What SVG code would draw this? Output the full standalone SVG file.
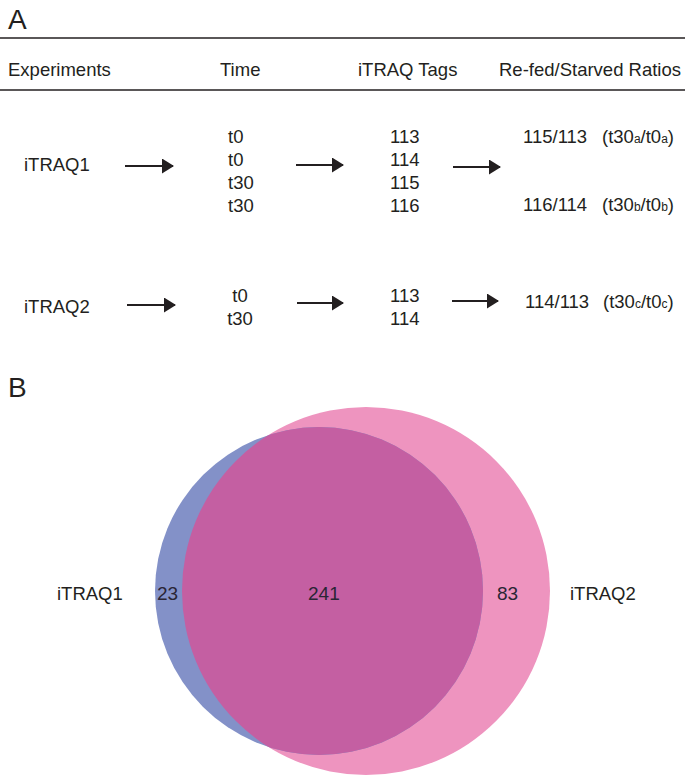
<svg xmlns="http://www.w3.org/2000/svg" width="685" height="778" viewBox="0 0 685 778">
<style>
text{font-family:"Liberation Sans",Arial,sans-serif;fill:#231f20;font-size:18.5px}
.big{font-size:28px}
.sub{font-size:12px}
.rule{stroke:#231f20;stroke-width:1.5}
.arr{stroke:#231f20;stroke-width:2;fill:none}
.vn{fill:#2a2535;font-size:19px}
</style>
<defs>
<marker id="ah" markerUnits="userSpaceOnUse" markerWidth="12" markerHeight="15" refX="11" refY="7.5" orient="auto">
<path d="M0,0 L12,7.5 L0,15 z" fill="#231f20"/>
</marker>
<clipPath id="pinkclip"><circle cx="366" cy="591" r="184"/></clipPath>
</defs>

<g id="panelA">
<text class="big" x="8" y="29">A</text>
<line class="rule" x1="0" y1="38" x2="685" y2="38"/>
<line class="rule" x1="0" y1="90" x2="685" y2="90"/>
<g id="header">
<text x="8" y="76">Experiments</text>
<text x="220" y="76">Time</text>
<text x="358" y="76">iTRAQ Tags</text>
<text x="499" y="76">Re-fed/Starved Ratios</text>
</g>
<g id="iTRAQ1-exp"><text x="24" y="171">iTRAQ1</text></g>
<g id="iTRAQ1-time">
<text x="228" y="143">t0</text>
<text x="228" y="166">t0</text>
<text x="228" y="189">t30</text>
<text x="228" y="212">t30</text>
</g>
<g id="iTRAQ1-tags">
<text x="390" y="143">113</text>
<text x="390" y="166">114</text>
<text x="390" y="189">115</text>
<text x="390" y="212">116</text>
</g>
<g id="iTRAQ1-ratios">
<text x="523" y="143">115/113</text>
<text x="602" y="143">(t30<tspan class="sub">a</tspan>/t0<tspan class="sub">a</tspan>)</text>
<text x="523" y="211">116/114</text>
<text x="602" y="211">(t30<tspan class="sub">b</tspan>/t0<tspan class="sub">b</tspan>)</text>
</g>
<g id="iTRAQ2-exp"><text x="24" y="313">iTRAQ2</text></g>
<g id="iTRAQ2-time">
<text x="240" y="302" text-anchor="middle">t0</text>
<text x="240" y="325" text-anchor="middle">t30</text>
</g>
<g id="iTRAQ2-tags">
<text x="390" y="302">113</text>
<text x="390" y="325">114</text>
</g>
<g id="iTRAQ2-ratios">
<text x="525" y="308">114/113</text>
<text x="603" y="308">(t30<tspan class="sub">c</tspan>/t0<tspan class="sub">c</tspan>)</text>
</g>
<g id="connectors">
<line class="arr" x1="125" y1="166" x2="173" y2="166" marker-end="url(#ah)"/>
<line class="arr" x1="296" y1="165" x2="343" y2="165" marker-end="url(#ah)"/>
<line class="arr" x1="453" y1="167" x2="500" y2="167" marker-end="url(#ah)"/>
<line class="arr" x1="127" y1="305" x2="175" y2="305" marker-end="url(#ah)"/>
<line class="arr" x1="297" y1="303" x2="343" y2="303" marker-end="url(#ah)"/>
<line class="arr" x1="452" y1="301" x2="498" y2="301" marker-end="url(#ah)"/>
</g>
</g>

<g id="panelB">
<text class="big" x="8" y="397">B</text>
<g id="venn">
<circle cx="366" cy="591" r="184" fill="#ee94bf"/>
<circle cx="319" cy="591" r="164" fill="#8391c8"/>
<circle cx="319" cy="591" r="164" fill="#c45fa2" clip-path="url(#pinkclip)"/>
</g>
<g id="venn-labels">
<text x="57" y="600">iTRAQ1</text>
<text class="vn" x="157" y="600">23</text>
<text class="vn" x="308" y="600">241</text>
<text class="vn" x="497" y="600">83</text>
<text x="570" y="600">iTRAQ2</text>
</g>
</g>
</svg>
